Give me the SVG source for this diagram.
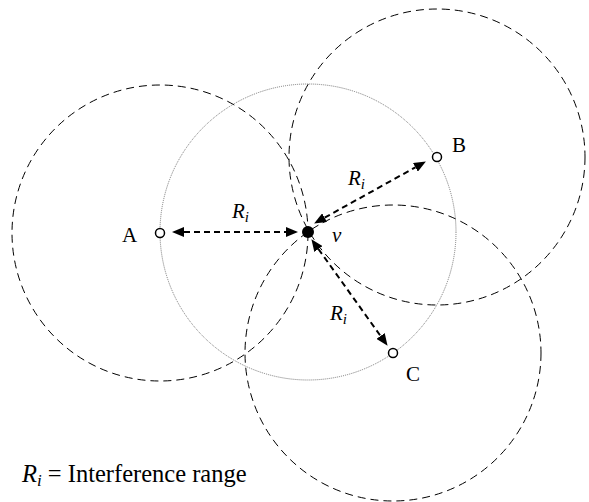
<svg xmlns="http://www.w3.org/2000/svg" width="589" height="502" viewBox="0 0 589 502">
<style>
.range{fill:none;stroke:#000;stroke-width:1;stroke-dasharray:8 5}
.dot{fill:none;stroke:#777;stroke-width:1;stroke-dasharray:1 1}
.arr{fill:none;stroke:#000;stroke-width:2;stroke-dasharray:6 4}
.node{fill:#fff;stroke:#000;stroke-width:1.5}
.lbl{font-family:"Liberation Serif","Times New Roman",serif;font-size:21px;fill:#000}
.it{font-style:italic}
.sub{font-size:15px}
.leg{font-size:24.5px}
.legsub{font-size:17px}
</style>
<defs>
<marker id="ah" viewBox="0 0 12 10" refX="0" refY="5" markerWidth="12" markerHeight="10" markerUnits="userSpaceOnUse" orient="auto-start-reverse">
<path d="M0,0 L12,5 L0,10 z" fill="#000"/>
</marker>
</defs>
<g id="ranges">
<circle class="range" cx="160" cy="233" r="148"/>
<circle class="range" cx="437" cy="157" r="148"/>
<circle class="range" cx="393" cy="353" r="148"/>
<circle class="dot" cx="308" cy="232" r="148"/>
</g>
<g id="connectors">
<line class="arr" x1="184" y1="232" x2="286" y2="232" marker-start="url(#ah)" marker-end="url(#ah)"/>
<line class="arr" x1="324.6" y1="217.7" x2="415.4" y2="167.3" marker-start="url(#ah)" marker-end="url(#ah)"/>
<line class="arr" x1="318.4" y1="249" x2="380.6" y2="336" marker-start="url(#ah)" marker-end="url(#ah)"/>
</g>
<g id="node-A"><circle class="node" cx="160" cy="233" r="4.5"/><text class="lbl" x="122" y="242">A</text></g>
<g id="node-B"><circle class="node" cx="437" cy="157" r="4.5"/><text class="lbl" x="452" y="152">B</text></g>
<g id="node-C"><circle class="node" cx="393" cy="353" r="4.5"/><text class="lbl" x="406" y="381">C</text></g>
<g id="node-v"><circle cx="308" cy="232" r="6" fill="#000"/><text class="lbl it" x="332" y="242">v</text></g>
<g id="labels">
<text class="lbl it" x="232" y="218">R<tspan class="sub" dy="4">i</tspan></text>
<text class="lbl it" x="348" y="185">R<tspan class="sub" dy="4">i</tspan></text>
<text class="lbl it" x="330" y="320">R<tspan class="sub" dy="4">i</tspan></text>
<text class="lbl leg" x="22" y="482"><tspan class="it">R</tspan><tspan class="it legsub" dy="4">i</tspan><tspan dy="-4"> = Interference range</tspan></text>
</g>
</svg>
